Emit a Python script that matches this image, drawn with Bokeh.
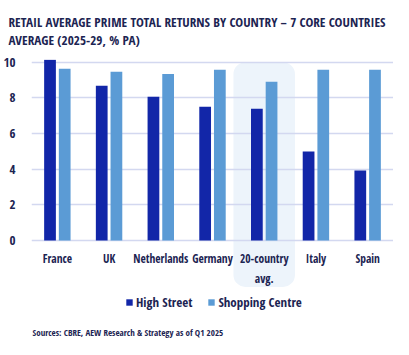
from bokeh.plotting import figure
from bokeh.models import ColumnDataSource, FixedTicker, Legend, LegendItem, Label
from bokeh.transform import dodge
from bokeh.core.properties import value
from bokeh.embed import file_html
from bokeh.resources import INLINE

countries = ["France", "UK", "Netherlands", "Germany", "20-country avg.", "Italy", "Spain"]
labels = ["France", "UK", "Netherlands", "Germany", "20-country\navg.", "Italy", "Spain"]
high_street = [10.13, 8.68, 8.06, 7.50, 7.39, 4.99, 3.93]
shopping_centre = [9.63, 9.46, 9.33, 9.57, 8.90, 9.57, 9.57]
y_ticks = [0, 2, 4, 6, 8, 10]
highlight = ["20-country avg."]

FONT_S = "Open Sans Condensed"
FONT = value(FONT_S)
NAVY = "#1c2452"
Y_START = -5.55

src = ColumnDataSource(dict(cat=countries, lab=labels, hs=high_street, sc=shopping_centre,
                            ly=[-0.58] * len(countries)))

p = figure(x_range=countries, y_range=(Y_START, 10.15), width=393, height=339,
           output_backend="svg", toolbar_location=None,
           min_border_left=23, min_border_right=0, min_border_top=0, min_border_bottom=0)

p.title.text = "RETAIL AVERAGE PRIME TOTAL RETURNS BY COUNTRY – 7 CORE COUNTRIES\nAVERAGE (2025-29, % PA)"
p.title.text_font = FONT_S
p.title.text_font_style = "bold"
p.title.text_font_size = "13.2px"
p.title.text_color = NAVY
p.title.align = "left"
p.title.offset = -23
p.title.standoff = 21

hl_src = ColumnDataSource(dict(cat=highlight))
hl = p.vbar(x="cat", width=1.19, top=10.0, bottom=-2.6, source=hl_src,
            fill_color="#edf4fb", line_color=None, border_radius=12)
hl.level = "image"

r1 = p.vbar(x=dodge("cat", -0.142, range=p.x_range), top="hs", width=0.227, source=src,
            fill_color="#1226a8", line_color=None)
r2 = p.vbar(x=dodge("cat", 0.142, range=p.x_range), top="sc", width=0.227, source=src,
            fill_color="#5b9bd5", line_color=None)

p.text(x="cat", y="ly", text="lab", source=src, text_font=FONT, text_font_size="11.5px",
       text_color=NAVY, text_align="center", text_baseline="top", text_line_height=1.35)

p.below = []
p.xgrid.visible = False
p.yaxis.ticker = FixedTicker(ticks=y_ticks)
p.ygrid.ticker = FixedTicker(ticks=y_ticks)
p.ygrid.grid_line_color = "#d3d8f0"
p.ygrid.grid_line_width = 1.5
p.yaxis.axis_line_color = None
p.yaxis.major_tick_line_color = None
p.yaxis.minor_tick_line_color = None
p.yaxis.major_label_text_font = FONT_S
p.yaxis.major_label_text_font_size = "13px"
p.yaxis.major_label_text_color = NAVY
p.yaxis.major_label_standoff = 10
p.outline_line_color = None

legend = Legend(items=[LegendItem(label="High Street", renderers=[r1]),
                       LegendItem(label="Shopping Centre", renderers=[r2])],
                orientation="horizontal", location=(94, 28),
                label_text_font=FONT_S, label_text_font_size="13px", label_text_color=NAVY,
                glyph_width=8, glyph_height=8, label_standoff=3, spacing=15,
                padding=0, margin=0, border_line_color=None, background_fill_alpha=0,
                label_height=14)
p.add_layout(legend)

source_note = Label(x=0, y=Y_START, x_offset=1, y_offset=1,
                    text="Sources: CBRE, AEW Research & Strategy as of Q1 2025",
                    text_font=FONT_S, text_font_size="9px", text_font_style="bold",
                    text_color=NAVY, text_baseline="bottom", text_align="left")
p.add_layout(source_note)

open("out.html", "w").write(file_html(p, INLINE))
